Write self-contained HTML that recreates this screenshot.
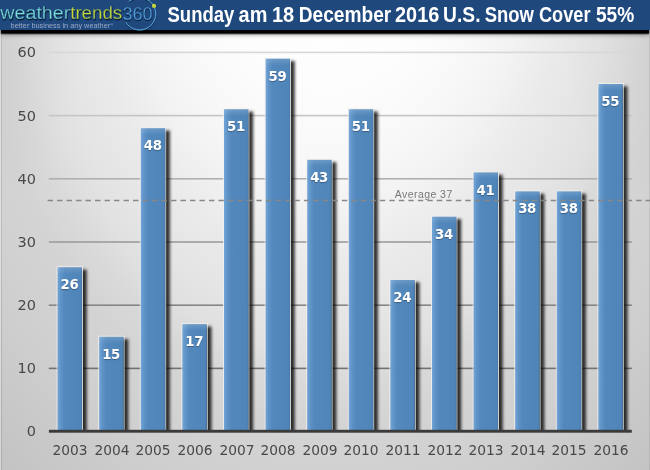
<!DOCTYPE html>
<html lang="en">
<head>
<meta charset="utf-8">
<title>Sunday am 18 December 2016 U.S. Snow Cover 55%</title>
<style>
html,body{margin:0;padding:0;}
body{width:650px;height:470px;overflow:hidden;background:#d0d0d0;font-family:"Liberation Sans",sans-serif;}
#c{position:relative;width:650px;height:470px;overflow:hidden;
  background:radial-gradient(ellipse 90px 170px at 0px 30px,rgba(0,0,0,.04) 0%,rgba(0,0,0,0) 100%),radial-gradient(ellipse 90px 170px at 650px 30px,rgba(0,0,0,.035) 0%,rgba(0,0,0,0) 100%),radial-gradient(ellipse 375px 525px at 328px -75px,#ffffff 0%,#fdfdfd 30%,#f8f8f8 45%,#f2f2f2 55%,#eaeaea 65%,#e5e5e5 75%,#e0e0e0 82%,#d9d9d9 88%,#d4d4d4 95%,#d1d1d1 105%,#cdcdcd 115%,#c4c4c4 133%,#c0c0c0 145%);}
#fl{position:absolute;left:0;top:30px;width:1.3px;height:440px;background:rgba(255,255,255,.3);}
#fl2{position:absolute;left:1.3px;top:30px;width:1.2px;height:440px;background:rgba(0,0,0,.1);}
#fr{position:absolute;left:649px;top:30px;width:1px;height:440px;background:rgba(0,0,0,.07);}
#hd{position:absolute;left:0;top:0;width:650px;height:30px;background:#1f497d;z-index:5;}
#hs{position:absolute;left:1.3px;top:26px;width:648px;height:6.7px;background:#000;box-shadow:0 0.8px 1.2px 0 rgba(0,0,0,.95),0 2px 4px 0 rgba(0,0,0,.35);z-index:4;}
.yl{position:absolute;left:0;width:36px;text-align:right;font-family:"DejaVu Sans","Liberation Sans",sans-serif;font-size:13.5px;line-height:16px;color:#484848;transform:scaleX(1.07);transform-origin:100% 50%;}
.xl{position:absolute;top:443px;width:60px;text-align:center;font-family:"DejaVu Sans","Liberation Sans",sans-serif;font-size:13.4px;line-height:16px;color:#484848;transform:scaleX(1.03);transform-origin:50% 50%;}
.v{position:absolute;width:40px;text-align:center;color:#fff;font-family:"DejaVu Sans","Liberation Sans",sans-serif;font-weight:bold;font-size:13.3px;letter-spacing:-0.3px;line-height:14px;text-shadow:0 1px 1px rgba(0,0,0,.3);}
#avl{position:absolute;left:394.7px;top:188px;font-size:10.5px;line-height:12px;color:#777;white-space:nowrap;letter-spacing:0.45px;}
#logo{position:absolute;left:0;top:0;z-index:6;}
#ttl{position:absolute;left:0;top:0;z-index:6;}
</style>
</head>
<body>
<div id="c">
<div id="fl"></div><div id="fl2"></div><div id="fr"></div>

<svg id="grid" width="650" height="470" style="position:absolute;left:0;top:0"><rect x="48.8" y="367.60" width="583" height="1.6" fill="#727272"/><rect x="48.8" y="304.40" width="583" height="1.6" fill="#868686"/><rect x="48.8" y="241.20" width="583" height="1.6" fill="#9c9c9c"/><rect x="48.8" y="178.00" width="583" height="1.6" fill="#b0b0b0"/><rect x="48.8" y="114.80" width="583" height="1.6" fill="#c5c5c5"/><rect x="48.8" y="51.60" width="583" height="1.6" fill="#d8d8d8"/></svg>
<div class="yl" style="top:422.9px">0</div>
<div class="yl" style="top:360.4px">10</div>
<div class="yl" style="top:297.2px">20</div>
<div class="yl" style="top:234.0px">30</div>
<div class="yl" style="top:170.8px">40</div>
<div class="yl" style="top:107.6px">50</div>
<div class="yl" style="top:44.4px">60</div>
<div id="avl">Average 37</div>
<svg id="bars" width="650" height="431" viewBox="0 0 650 431" style="position:absolute;left:0;top:0;overflow:hidden"><defs><linearGradient id="bg" x1="0" y1="0" x2="1" y2="0"><stop offset="0" stop-color="#70a4d8"/><stop offset="0.12" stop-color="#5f95ca"/><stop offset="0.3" stop-color="#548bc0"/><stop offset="0.9" stop-color="#5188bd"/><stop offset="1" stop-color="#4a81b8"/></linearGradient><linearGradient id="bt" x1="0" y1="0" x2="0" y2="1"><stop offset="0" stop-color="#fff" stop-opacity="0.13"/><stop offset="1" stop-color="#fff" stop-opacity="0"/></linearGradient><filter id="bs" x="-1%" y="-1%" width="102%" height="102%" filterUnits="userSpaceOnUse" primitiveUnits="userSpaceOnUse"><feGaussianBlur stdDeviation="1.7"/></filter></defs><g filter="url(#bs)" fill="#000" fill-opacity="0.8"><rect x="61.30" y="269.58" width="25.40" height="174.32"/><rect x="102.90" y="339.10" width="25.40" height="104.80"/><rect x="144.50" y="130.54" width="25.40" height="313.36"/><rect x="186.10" y="326.46" width="25.40" height="117.44"/><rect x="227.70" y="111.58" width="25.40" height="332.32"/><rect x="269.30" y="61.02" width="25.40" height="382.88"/><rect x="310.90" y="162.14" width="25.40" height="281.76"/><rect x="352.50" y="111.58" width="25.40" height="332.32"/><rect x="394.10" y="282.22" width="25.40" height="161.68"/><rect x="435.70" y="219.02" width="25.40" height="224.88"/><rect x="477.30" y="174.78" width="25.40" height="269.12"/><rect x="518.90" y="193.74" width="25.40" height="250.16"/><rect x="560.50" y="193.74" width="25.40" height="250.16"/><rect x="602.10" y="86.30" width="25.40" height="357.60"/></g><g opacity="0.975"><rect x="57.10" y="266.78" width="25.40" height="167.32" fill="none" stroke="#f4f1ec" stroke-opacity="0.85" stroke-width="1"/><rect x="57.60" y="267.28" width="24.40" height="164.32" fill="url(#bg)"/><rect x="57.60" y="267.28" width="24.40" height="7" fill="url(#bt)"/><rect x="98.70" y="336.30" width="25.40" height="97.80" fill="none" stroke="#f4f1ec" stroke-opacity="0.85" stroke-width="1"/><rect x="99.20" y="336.80" width="24.40" height="94.80" fill="url(#bg)"/><rect x="99.20" y="336.80" width="24.40" height="7" fill="url(#bt)"/><rect x="140.30" y="127.74" width="25.40" height="306.36" fill="none" stroke="#f4f1ec" stroke-opacity="0.85" stroke-width="1"/><rect x="140.80" y="128.24" width="24.40" height="303.36" fill="url(#bg)"/><rect x="140.80" y="128.24" width="24.40" height="7" fill="url(#bt)"/><rect x="181.90" y="323.66" width="25.40" height="110.44" fill="none" stroke="#f4f1ec" stroke-opacity="0.85" stroke-width="1"/><rect x="182.40" y="324.16" width="24.40" height="107.44" fill="url(#bg)"/><rect x="182.40" y="324.16" width="24.40" height="7" fill="url(#bt)"/><rect x="223.50" y="108.78" width="25.40" height="325.32" fill="none" stroke="#f4f1ec" stroke-opacity="0.85" stroke-width="1"/><rect x="224.00" y="109.28" width="24.40" height="322.32" fill="url(#bg)"/><rect x="224.00" y="109.28" width="24.40" height="7" fill="url(#bt)"/><rect x="265.10" y="58.22" width="25.40" height="375.88" fill="none" stroke="#f4f1ec" stroke-opacity="0.85" stroke-width="1"/><rect x="265.60" y="58.72" width="24.40" height="372.88" fill="url(#bg)"/><rect x="265.60" y="58.72" width="24.40" height="7" fill="url(#bt)"/><rect x="306.70" y="159.34" width="25.40" height="274.76" fill="none" stroke="#f4f1ec" stroke-opacity="0.85" stroke-width="1"/><rect x="307.20" y="159.84" width="24.40" height="271.76" fill="url(#bg)"/><rect x="307.20" y="159.84" width="24.40" height="7" fill="url(#bt)"/><rect x="348.30" y="108.78" width="25.40" height="325.32" fill="none" stroke="#f4f1ec" stroke-opacity="0.85" stroke-width="1"/><rect x="348.80" y="109.28" width="24.40" height="322.32" fill="url(#bg)"/><rect x="348.80" y="109.28" width="24.40" height="7" fill="url(#bt)"/><rect x="389.90" y="279.42" width="25.40" height="154.68" fill="none" stroke="#f4f1ec" stroke-opacity="0.85" stroke-width="1"/><rect x="390.40" y="279.92" width="24.40" height="151.68" fill="url(#bg)"/><rect x="390.40" y="279.92" width="24.40" height="7" fill="url(#bt)"/><rect x="431.50" y="216.22" width="25.40" height="217.88" fill="none" stroke="#f4f1ec" stroke-opacity="0.85" stroke-width="1"/><rect x="432.00" y="216.72" width="24.40" height="214.88" fill="url(#bg)"/><rect x="432.00" y="216.72" width="24.40" height="7" fill="url(#bt)"/><rect x="473.10" y="171.98" width="25.40" height="262.12" fill="none" stroke="#f4f1ec" stroke-opacity="0.85" stroke-width="1"/><rect x="473.60" y="172.48" width="24.40" height="259.12" fill="url(#bg)"/><rect x="473.60" y="172.48" width="24.40" height="7" fill="url(#bt)"/><rect x="514.70" y="190.94" width="25.40" height="243.16" fill="none" stroke="#f4f1ec" stroke-opacity="0.85" stroke-width="1"/><rect x="515.20" y="191.44" width="24.40" height="240.16" fill="url(#bg)"/><rect x="515.20" y="191.44" width="24.40" height="7" fill="url(#bt)"/><rect x="556.30" y="190.94" width="25.40" height="243.16" fill="none" stroke="#f4f1ec" stroke-opacity="0.85" stroke-width="1"/><rect x="556.80" y="191.44" width="24.40" height="240.16" fill="url(#bg)"/><rect x="556.80" y="191.44" width="24.40" height="7" fill="url(#bt)"/><rect x="597.90" y="83.50" width="25.40" height="350.60" fill="none" stroke="#f4f1ec" stroke-opacity="0.85" stroke-width="1"/><rect x="598.40" y="84.00" width="24.40" height="347.60" fill="url(#bg)"/><rect x="598.40" y="84.00" width="24.40" height="7" fill="url(#bt)"/></g></svg>
<svg width="650" height="470" style="position:absolute;left:0;top:0"><line x1="47.6" y1="200.4" x2="650" y2="200.4" stroke="#888888" stroke-width="1.5" stroke-dasharray="5.4 4.093"/></svg>
<div class="v" style="left:49.5px;top:278.3px">26</div>
<div class="xl" style="left:40.1px">2003</div>
<div class="v" style="left:91.1px;top:347.8px">15</div>
<div class="xl" style="left:81.7px">2004</div>
<div class="v" style="left:132.7px;top:139.2px">48</div>
<div class="xl" style="left:123.3px">2005</div>
<div class="v" style="left:174.3px;top:335.2px">17</div>
<div class="xl" style="left:164.9px">2006</div>
<div class="v" style="left:215.9px;top:120.3px">51</div>
<div class="xl" style="left:206.5px">2007</div>
<div class="v" style="left:257.5px;top:69.7px">59</div>
<div class="xl" style="left:248.1px">2008</div>
<div class="v" style="left:299.1px;top:170.8px">43</div>
<div class="xl" style="left:289.7px">2009</div>
<div class="v" style="left:340.7px;top:120.3px">51</div>
<div class="xl" style="left:331.3px">2010</div>
<div class="v" style="left:382.3px;top:290.9px">24</div>
<div class="xl" style="left:372.9px">2011</div>
<div class="v" style="left:423.9px;top:227.7px">34</div>
<div class="xl" style="left:414.5px">2012</div>
<div class="v" style="left:465.5px;top:183.5px">41</div>
<div class="xl" style="left:456.1px">2013</div>
<div class="v" style="left:507.1px;top:202.4px">38</div>
<div class="xl" style="left:497.7px">2014</div>
<div class="v" style="left:548.7px;top:202.4px">38</div>
<div class="xl" style="left:539.3px">2015</div>
<div class="v" style="left:590.3px;top:95.0px">55</div>
<div class="xl" style="left:580.9px">2016</div>
<svg width="650" height="470" style="position:absolute;left:0;top:0"><rect x="48.9" y="429.8" width="582.9" height="2.9" fill="#3b3b3b"/></svg>
<div id="hs"></div><div id="hd"></div>
<svg id="logo" width="165" height="31" viewBox="0 0 165 31">
<defs><filter id="ds" x="-5%" y="-20%" width="110%" height="150%"><feDropShadow dx="0.4" dy="1.1" stdDeviation="0.55" flood-color="#020c24" flood-opacity="1"/></filter><filter id="ds2" x="-10%" y="-10%" width="120%" height="130%"><feDropShadow dx="0.2" dy="0.9" stdDeviation="0.5" flood-color="#020c24" flood-opacity="0.8"/></filter></defs>
<path d="M129.09 1.39 A16.2 16.2 0 1 1 125.91 22.62" fill="none" stroke="#5aa3dc" stroke-width="1" stroke-linecap="round" filter="url(#ds2)"/>
<circle cx="154" cy="5.9" r="2.1" fill="#c3d53a"/>
<g font-family="'Liberation Sans',sans-serif" filter="url(#ds)" stroke="#1f497d" stroke-width="0.3">
<text x="0.2" y="19.4" font-size="18" fill="#7bdcd6" textLength="70.2" lengthAdjust="spacingAndGlyphs">weather</text>
<text x="70.2" y="19.4" font-size="18" fill="#c4d838" textLength="52" lengthAdjust="spacingAndGlyphs">trends</text>
</g>
<g font-family="'Liberation Sans',sans-serif" stroke="#1f497d" stroke-width="0.45" filter="url(#ds2)">
<text x="122.5" y="20" font-size="18.3" fill="#55a4e0" textLength="30.2" lengthAdjust="spacingAndGlyphs">360</text>
</g>
<text x="10.6" y="28" font-family="'Liberation Sans',sans-serif" font-size="7.6" fill="#9aa8c8" textLength="102.5" lengthAdjust="spacingAndGlyphs">better business in any weather<tspan font-size="4" dy="-2.5">®</tspan></text>
</svg>
<svg id="ttl" width="650" height="31" viewBox="0 0 650 31"><g font-family="'Liberation Sans',sans-serif" font-weight="bold" font-size="21.2" fill="#ffffff">
<text class="w" x="167.50" y="22" textLength="66.80" lengthAdjust="spacingAndGlyphs">Sunday</text>
<text class="w" x="238.60" y="22" textLength="28.80" lengthAdjust="spacingAndGlyphs">am</text>
<text class="w" x="271.90" y="22" textLength="22.30" lengthAdjust="spacingAndGlyphs">18</text>
<text class="w" x="298.70" y="22" textLength="92.60" lengthAdjust="spacingAndGlyphs">December</text>
<text class="w" x="395.00" y="22" textLength="44.30" lengthAdjust="spacingAndGlyphs">2016</text>
<text class="w" x="443.10" y="22" textLength="37.40" lengthAdjust="spacingAndGlyphs">U.S.</text>
<text class="w" x="484.70" y="22" textLength="49.20" lengthAdjust="spacingAndGlyphs">Snow</text>
<text class="w" x="539.00" y="22" textLength="51.50" lengthAdjust="spacingAndGlyphs">Cover</text>
<text class="w" x="595.90" y="22" textLength="38.30" lengthAdjust="spacingAndGlyphs">55%</text>
</g></svg>
</div>
</body>
</html>
